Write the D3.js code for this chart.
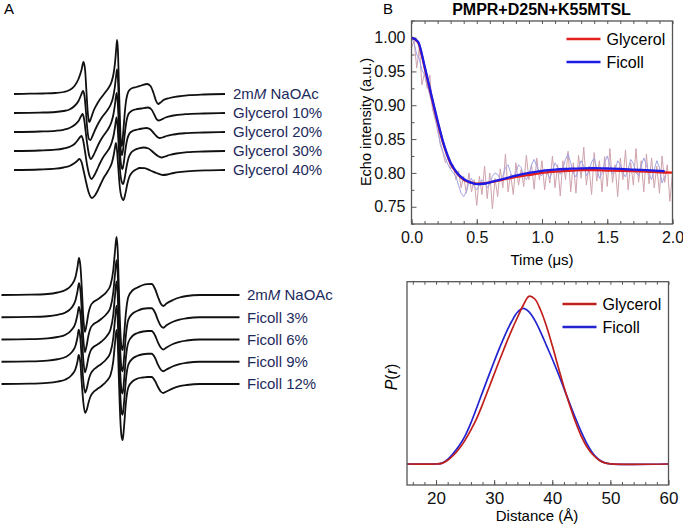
<!DOCTYPE html>
<html>
<head>
<meta charset="utf-8">
<script src="https://cdnjs.cloudflare.com/ajax/libs/d3/7.8.5/d3.min.js"></script>
<style>
  body { margin: 0; background: #fff; }
  svg { font-family: "Liberation Sans", Arial, sans-serif; }
</style>
</head>
<body>
<svg id="fig" width="683" height="525"></svg>
<script>

// ---------------- panel A : cw EPR spectra ----------------
var glyLabels = ["2mM NaOAc", "Glycerol 10%", "Glycerol 20%", "Glycerol 30%", "Glycerol 40%"];
var ficLabels = ["2mM NaOAc", "Ficoll 3%", "Ficoll 6%", "Ficoll 9%", "Ficoll 12%"];

// [field offset (G), derivative amplitude]
var glySpectra = [
  [[-52.75,0],[-45,0.3],[-38,0.5],[-32,1],[-28,2],[-25,4],[-22.5,8],[-20.5,15],[-19,24],[-18,32],[-17.2,24],[-16.6,5],[-16,-15],[-15.5,-25],[-15,-28],[-14.2,-24],[-13,-17],[-11.5,-11],[-10,-6],[-8.5,-2],[-7,2],[-5.5,6],[-4,12],[-3,20],[-2.2,32],[-1.6,46],[-1.2,54],[-0.8,44],[-0.3,10],[0.2,-25],[0.7,-48],[1.2,-52],[1.8,-40],[2.5,-22],[3.2,-8],[4,0],[5,4],[6.5,6],[8.5,7],[11,8.5],[13.75,10],[15.5,8],[17,1],[18.3,-7],[19.3,-10],[20.5,-8.5],[22,-6],[25,-4],[29,-2.5],[35,-1.2],[42,-0.5],[52.75,0]],
  [[-52.75,0],[-40,0.4],[-32,1],[-28,2],[-25,3.5],[-22.5,7],[-20.5,12],[-19.2,18],[-18.25,22],[-17.5,17],[-16.8,2],[-16.1,-16],[-15.3,-26],[-14.5,-27],[-13.5,-23],[-12,-16],[-10.5,-10],[-9,-5],[-7.5,-1],[-6,3],[-4.5,8],[-3.3,15],[-2.4,25],[-1.7,37],[-1.25,43.5],[-0.8,35],[-0.3,8],[0.2,-22],[0.7,-38],[1.3,-42],[2,-33],[2.8,-18],[3.6,-7],[4.5,-1],[6,2],[8,3.5],[11,4.5],[14.25,5.5],[16,3.5],[17.5,-2],[18.5,-6],[19.5,-7.5],[21,-6.5],[23,-4.5],[27,-2.5],[33,-1.2],[42,-0.5],[52.75,0]],
  [[-52.75,0],[-40,0.5],[-32,1.2],[-28,2.2],[-25,4],[-22.5,7],[-20.5,11],[-19.3,15.5],[-18.5,18],[-17.7,13],[-16.9,0],[-16,-14],[-15.1,-24],[-14.3,-27],[-13.2,-24],[-11.8,-18],[-10.2,-11],[-8.6,-5.5],[-7,-1],[-5.5,3.5],[-4.2,9],[-3.1,17],[-2.3,27],[-1.8,35],[-1.4,39],[-0.9,30],[-0.3,5],[0.3,-22],[0.9,-34],[1.5,-37],[2.2,-30],[3,-17],[3.9,-7],[5,-1.5],[6.5,1],[9,2.5],[11.5,3.5],[13.5,4],[15.5,2.5],[17.5,-2],[19,-5],[20,-6],[21.5,-5.5],[23.5,-4],[27,-2.5],[33,-1.2],[42,-0.5],[52.75,0]],
  [[-52.75,0],[-40,0.5],[-32,1.3],[-28,2.5],[-25,4.2],[-22.5,7],[-20.8,11],[-19.7,14],[-19,15],[-18.2,11],[-17.2,-1],[-16.2,-14],[-15.1,-24],[-14,-28],[-12.8,-25],[-11.3,-19],[-9.7,-12],[-8.1,-6],[-6.5,-1.5],[-5,3],[-3.8,9],[-2.8,17],[-2.1,26],[-1.5,33.5],[-1,26],[-0.4,4],[0.3,-20],[1,-30],[1.8,-33],[2.6,-27],[3.5,-16],[4.5,-7],[5.7,-2],[7.5,1],[10,2.8],[12,3.5],[14.5,2.5],[17,-1.5],[19.2,-5],[21,-6.5],[22.7,-5.5],[25,-4],[28.5,-2.5],[34,-1.2],[42,-0.5],[52.75,0]],
  [[-52.75,0],[-40,0.5],[-32,1.3],[-28,2.5],[-25,4],[-22.8,6.5],[-21.2,9],[-20,11],[-19,8],[-17.8,-2],[-16.6,-13],[-15.3,-23],[-13.8,-28],[-12.5,-26],[-11,-21],[-9.4,-14],[-7.8,-7.5],[-6.2,-2.5],[-4.8,2.5],[-3.7,8],[-2.8,16],[-2.2,23],[-1.8,27],[-1.3,21],[-0.6,2],[0.2,-18],[1,-27],[2,-30],[2.9,-24],[3.9,-14],[5,-6.5],[6.5,-2],[8.5,0.8],[10,2],[12.5,1.8],[15.5,-0.5],[18.5,-3],[21.7,-5],[24,-4.5],[27,-3],[31,-1.8],[37,-0.8],[45,-0.3],[52.75,0]]
];

var ficSpectra = [
  [[-59,0],[-45,0.3],[-36,1],[-31,2.5],[-27,5],[-24,10],[-22,18],[-21,28],[-20.25,37],[-19.5,28],[-18.8,5],[-18.1,-22],[-17.3,-37],[-16.5,-30],[-15.5,-18],[-14.5,-11],[-13,-7],[-11.4,-5],[-9,-1.5],[-6.4,3.3],[-4.5,10],[-3.1,25],[-2.2,45],[-1.5,58],[-0.9,45],[-0.3,5],[0.4,-35],[1.0,-52],[1.6,-55],[2.3,-40],[3.2,-18],[4.4,-2],[6.75,5],[9,7.5],[11.75,10],[14,10.8],[16.1,11],[17.8,6],[19.25,-2],[20.6,-8.5],[21.9,-11],[23.5,-8.5],[26.75,-5],[30,-2.5],[33.6,-1],[40,0],[60,0]],
  [[-59,0],[-45,0.3],[-36,1],[-31,2.4],[-27,4.8],[-24,9.5],[-22,17],[-21,26],[-20.25,34],[-19.5,26],[-18.8,4],[-18.1,-21],[-17.3,-35],[-16.5,-29],[-15.5,-18],[-14.5,-11],[-13,-7],[-11.4,-5],[-9,-1.5],[-6.4,3.5],[-4.5,10],[-3.1,25],[-2.2,44],[-1.5,57],[-0.9,44],[-0.3,5],[0.4,-34],[1.0,-51],[1.6,-54],[2.3,-40],[3.2,-18],[4.4,-2.5],[6.75,4],[9,6.5],[11.75,8.5],[14,9],[16.1,9],[17.8,4.5],[19.25,-3],[20.6,-8.5],[21.9,-10.5],[23.5,-8],[26.75,-4.5],[30,-2.3],[33.6,-1],[40,0],[60,0]],
  [[-59,0],[-45,0.3],[-36,1.1],[-31,2.5],[-27,4.8],[-24,9.5],[-22,16.5],[-21,25],[-20.3,32.5],[-19.5,25],[-18.8,3],[-18.1,-20],[-17.3,-33],[-16.5,-28],[-15.5,-18],[-14.5,-11.5],[-13,-7.5],[-11.4,-5.5],[-9,-2],[-6.4,3.3],[-4.5,10],[-3.1,25],[-2.2,45],[-1.5,58],[-0.9,45],[-0.3,5],[0.4,-34],[1.0,-51],[1.6,-54],[2.3,-40],[3.2,-18],[4.4,-3],[6.75,4],[9,6.5],[11.75,8],[14,8.5],[16.1,8.5],[17.8,4],[19.25,-3],[20.6,-8],[21.9,-10],[23.5,-8],[26.75,-4.5],[30,-2.3],[33.6,-1],[40,0],[60,0]],
  [[-59,0],[-45,0.3],[-36,1.1],[-31,2.5],[-27,4.7],[-24,9.3],[-22,16],[-21,24.5],[-20.4,32],[-19.6,24],[-18.9,3],[-18.1,-19],[-17.2,-31],[-16.4,-27],[-15.4,-18],[-14.4,-12],[-13,-8],[-11.4,-5.5],[-9,-2],[-6.4,3],[-4.5,9.5],[-3.1,24],[-2.2,43],[-1.5,56],[-0.9,43],[-0.3,5],[0.4,-33],[1.0,-50],[1.6,-53],[2.3,-40],[3.2,-18],[4.4,-3],[6.75,3.5],[9,6],[11.75,7.5],[14,8],[16.1,8],[17.8,3.8],[19.25,-3],[20.6,-7.8],[21.9,-9.5],[23.5,-7.8],[26.75,-4.5],[30,-2.3],[33.6,-1],[40,0],[60,0]],
  [[-59,0],[-45,0.3],[-36,1.1],[-31,2.4],[-27,4.5],[-24,8.8],[-22,15],[-21,22.5],[-20.4,29],[-19.6,22],[-18.9,2],[-18.1,-18],[-17.2,-29],[-16.4,-26],[-15.4,-18],[-14.4,-12],[-13,-8],[-11.4,-5.5],[-9,-2],[-6.4,3],[-4.5,9],[-3.1,23],[-2.2,42],[-1.5,54],[-0.9,42],[-0.3,4],[0.4,-35],[1.0,-52],[1.6,-56],[2.3,-42],[3.2,-19],[4.4,-3.5],[6.75,3],[9,5.5],[11.75,6.5],[14,7],[16.1,7],[17.8,3],[19.25,-3],[20.6,-7.5],[21.9,-9],[23.5,-7.5],[26.75,-4.3],[30,-2.2],[33.6,-1],[40,0],[60,0]]
];

// ---------------- panel B : DEER ----------------
var deerTitle = "PMPR+D25N+K55MTSL";
var seriesNames = ["Glycerol", "Ficoll"];
var timeTicks = [0, 0.5, 1.0, 1.5, 2.0];
var echoTicks = [0.75, 0.80, 0.85, 0.90, 0.95, 1.00];
var distTicks = [20, 30, 40, 50, 60];

var rawStep = 0.02; // us between raw points
var glyRaw = [0.985,0.995,0.955,0.985,0.930,0.948,0.925,0.945,0.895,0.880,0.870,0.842,0.830,0.815,0.823,0.806,0.812,0.790,0.803,0.778,
  0.795,0.770,0.800,0.772,0.790,0.752,0.795,0.768,0.810,0.762,0.800,0.747,0.792,0.765,0.806,0.778,0.828,0.772,0.798,0.768,
  0.815,0.782,0.805,0.780,0.826,0.790,0.812,0.776,0.822,0.790,0.818,0.775,0.806,0.785,0.825,0.778,0.812,0.766,0.818,0.790,
  0.832,0.772,0.815,0.770,0.826,0.792,0.838,0.782,0.810,0.768,0.830,0.788,0.818,0.772,0.824,0.780,0.836,0.786,0.812,0.765,
  0.822,0.790,0.834,0.775,0.815,0.782,0.836,0.786,0.818,0.772,0.828,0.784,0.822,0.778,0.810,0.770,0.825,0.786,0.812,0.758,0.800];
var ficRaw = [1.000,0.992,0.975,0.968,0.952,0.945,0.930,0.915,0.900,0.882,0.862,0.845,0.832,0.822,0.812,0.805,0.800,0.795,0.782,0.770,
  0.765,0.772,0.786,0.792,0.780,0.775,0.782,0.790,0.786,0.778,0.784,0.795,0.800,0.798,0.790,0.795,0.808,0.812,0.800,0.792,
  0.800,0.812,0.808,0.795,0.790,0.798,0.812,0.820,0.810,0.798,0.796,0.806,0.800,0.792,0.802,0.815,0.808,0.798,0.806,0.820,
  0.828,0.815,0.800,0.794,0.808,0.818,0.810,0.796,0.802,0.816,0.822,0.806,0.792,0.800,0.815,0.825,0.812,0.798,0.804,0.818,
  0.812,0.800,0.794,0.806,0.820,0.814,0.800,0.796,0.810,0.822,0.812,0.798,0.790,0.805,0.818,0.808,0.785,0.795];

var glyFitT = [0,0.05,0.1,0.15,0.2,0.25,0.3,0.35,0.4,0.45,0.5,0.55,0.6,0.7,0.8,0.9,1.0,1.1,1.2,1.3,1.4,1.5,1.6,1.7,1.8,1.9,2.0];
var glyFit  = [1.000,0.993,0.956,0.915,0.875,0.839,0.814,0.799,0.790,0.786,0.784,0.7845,0.786,0.790,0.794,0.797,0.800,0.802,0.803,0.804,0.804,0.8035,0.803,0.8025,0.802,0.801,0.8005];
var ficFitT = [0,0.05,0.1,0.15,0.2,0.25,0.3,0.35,0.4,0.45,0.5,0.55,0.6,0.7,0.8,0.9,1.0,1.1,1.2,1.3,1.4,1.5,1.6,1.7,1.8,1.9,1.94];
var ficFit  = [1.000,0.994,0.958,0.917,0.877,0.841,0.815,0.800,0.791,0.786,0.7835,0.784,0.786,0.791,0.796,0.800,0.803,0.805,0.806,0.8068,0.807,0.8065,0.806,0.805,0.804,0.803,0.8025];

// distance distributions: r (A) and P(r)
var distR = [15,20,21,22,23,24,25,26,27,28,29,30,31,32,33,34,35,36,37,38,39,40,41,42,43,44,45,46,47,48,49,50,60];
var glyPr = [0,0,0.004,0.022,0.052,0.092,0.142,0.203,0.272,0.355,0.445,0.535,0.625,0.712,0.795,0.872,0.945,0.998,0.982,0.915,0.82,0.705,0.58,0.46,0.35,0.25,0.165,0.10,0.055,0.024,0.007,0.001,0];
var ficPr = [0,0,0.005,0.028,0.065,0.11,0.168,0.245,0.335,0.428,0.52,0.61,0.697,0.778,0.848,0.903,0.926,0.905,0.855,0.785,0.705,0.625,0.54,0.45,0.36,0.272,0.19,0.118,0.063,0.027,0.008,0.001,0];

var svg = d3.select("#fig");
svg.append("rect").attr("width", 683).attr("height", 525).attr("fill", "#fff");

// panel letters
svg.append("text").attr("x", 4).attr("y", 14).style("font-size", "15px").text("A");
svg.append("text").attr("x", 383).attr("y", 14).style("font-size", "15px").text("B");

//---- EPR stacks
var eprX = d3.scaleLinear().domain([-60, 60]).range([-0.5, 239.5]);
var eprY = d3.scaleLinear().domain([-100, 100]).range([100, -100]);
var eprLine = d3.line()
  .x(function(d) { return eprX(d[0]); })
  .y(function(d) { return eprY(d[1]); })
  .curve(d3.curveMonotoneX);

function addLabel(g, txt, x, y) {
  var t = g.append("text").attr("x", x).attr("y", y).attr("dy", "0.35em")
    .attr("fill", "#1d2a5c").style("font-size", "15px");
  if (txt.indexOf("mM") >= 0) {
    var p = txt.split("mM");
    t.append("tspan").text(p[0] + "m");
    t.append("tspan").style("font-style", "italic").text("M");
    t.append("tspan").text(p[1]);
  } else {
    t.text(txt);
  }
}

function drawStack(spectra, labels, top, step, labelX) {
  spectra.forEach(function(s, i) {
    var base = top + i * step;
    svg.append("path")
      .attr("transform", "translate(0," + base + ")")
      .attr("d", eprLine(s))
      .attr("fill", "none")
      .attr("stroke", "#111")
      .attr("stroke-width", 1.8)
      .attr("stroke-linejoin", "round");
    addLabel(svg, labels[i], labelX, base);
  });
}
drawStack(glySpectra, glyLabels, 94, 19, 233);
drawStack(ficSpectra, ficLabels, 295, 22.25, 247);

//---- DEER time trace
var tx = d3.scaleLinear().domain([0, 2]).range([411.5, 672.5]);
var ty = d3.scaleLinear().domain([0.7245, 1.0245]).range([224, 21]);
var axisCol = "#555";

function styleAxis(g, fs) {
  g.select(".domain").remove();
  g.selectAll(".tick line").attr("stroke", axisCol).attr("stroke-width", 1);
  g.selectAll(".tick text").style("font-size", fs).attr("fill", "#111")
    .style("font-family", "'Liberation Sans', Arial, sans-serif");
}

var gx = svg.append("g").attr("transform", "translate(0,224)")
  .call(d3.axisBottom(tx).tickValues(timeTicks).tickFormat(d3.format(".1f")).tickSizeInner(-5).tickSizeOuter(0).tickPadding(8));
styleAxis(gx, "16px");
var gxm = svg.append("g").attr("transform", "translate(0,224)")
  .call(d3.axisBottom(tx).tickValues(d3.range(0, 2.001, 0.1)).tickFormat("").tickSizeInner(-3).tickSizeOuter(0));
styleAxis(gxm, "0px");
var gxt = svg.append("g").attr("transform", "translate(0,21)")
  .call(d3.axisTop(tx).tickValues(d3.range(0, 2.001, 0.1)).tickFormat("").tickSizeInner(-3).tickSizeOuter(0));
styleAxis(gxt, "0px");

var gy = svg.append("g").attr("transform", "translate(411.5,0)")
  .call(d3.axisLeft(ty).tickValues(echoTicks).tickFormat(d3.format(".2f")).tickSizeInner(-5).tickSizeOuter(0).tickPadding(6));
styleAxis(gy, "16px");
var gym = svg.append("g").attr("transform", "translate(411.5,0)")
  .call(d3.axisLeft(ty).tickValues([0.725, 0.775, 0.825, 0.875, 0.925, 0.975, 1.025]).tickFormat("").tickSizeInner(-3).tickSizeOuter(0));
styleAxis(gym, "0px");

var rawLine = d3.line()
  .x(function(d, i) { return tx(i * rawStep); })
  .y(function(d) { return ty(d); });
svg.append("path").attr("d", rawLine(glyRaw)).attr("fill", "none").attr("stroke", "#cfa3ad").attr("stroke-width", 1);
svg.append("path").attr("d", rawLine(ficRaw)).attr("fill", "none").attr("stroke", "#a3a3e6").attr("stroke-width", 1);

var fitLine = d3.line().curve(d3.curveMonotoneX);
svg.append("path")
  .attr("d", fitLine(glyFitT.map(function(t, i) { return [tx(t), ty(glyFit[i])]; })))
  .attr("fill", "none").attr("stroke", "#e3201b").attr("stroke-width", 2.3);
svg.append("path")
  .attr("d", fitLine(ficFitT.map(function(t, i) { return [tx(t), ty(ficFit[i])]; })))
  .attr("fill", "none").attr("stroke", "#1c1ce6").attr("stroke-width", 2.3);

svg.append("rect").attr("x", 411.5).attr("y", 21).attr("width", 261).attr("height", 203)
  .attr("fill", "none").attr("stroke", axisCol).attr("stroke-width", 1.3);

svg.append("text").attr("x", 541.5).attr("y", 15).attr("text-anchor", "middle")
  .style("font-size", "16px").style("font-weight", "bold").text(deerTitle);
svg.append("text").attr("x", 542).attr("y", 265).attr("text-anchor", "middle")
  .style("font-size", "15px").text("Time (\u03bcs)");
svg.append("text").attr("transform", "translate(371,122) rotate(-90)").attr("text-anchor", "middle")
  .style("font-size", "14.5px").text("Echo intensity (a.u.)");

function legend(y0, colors, x0) {
  seriesNames.forEach(function(n, i) {
    var y = y0 + i * 23;
    svg.append("line").attr("x1", x0).attr("x2", x0 + 34).attr("y1", y).attr("y2", y)
      .attr("stroke", colors[i]).attr("stroke-width", 2.4);
    svg.append("text").attr("x", x0 + 40).attr("y", y).attr("dy", "0.35em")
      .style("font-size", "16px").text(n);
  });
}
legend(39, ["#e3201b", "#1c1ce6"], 566.5);

//---- distance distribution
var rx = d3.scaleLinear().domain([15, 60]).range([407, 668.5]);
var py = d3.scaleLinear().domain([-0.125, 1.085]).range([485, 281.7]);

var gr = svg.append("g").attr("transform", "translate(0,485)")
  .call(d3.axisBottom(rx).tickValues(distTicks).tickFormat(d3.format("d")).tickSizeInner(-5).tickSizeOuter(0).tickPadding(7));
styleAxis(gr, "17px");
var grm = svg.append("g").attr("transform", "translate(0,485)")
  .call(d3.axisBottom(rx).tickValues(d3.range(16, 60, 2)).tickFormat("").tickSizeInner(-3).tickSizeOuter(0));
styleAxis(grm, "0px");
var grt = svg.append("g").attr("transform", "translate(0,281.7)")
  .call(d3.axisTop(rx).tickValues(d3.range(16, 60.1, 2)).tickFormat("").tickSizeInner(-3).tickSizeOuter(0));
styleAxis(grt, "0px");

var prLine = d3.line()
  .x(function(d) { return rx(d[0]); })
  .y(function(d) { return py(d[1]); })
  .curve(d3.curveCatmullRom.alpha(0.5));
svg.append("path").attr("d", prLine(distR.map(function(r, i) { return [r, ficPr[i]]; })))
  .attr("fill", "none").attr("stroke", "#2323d0").attr("stroke-width", 1.7);
svg.append("path").attr("d", prLine(distR.map(function(r, i) { return [r, glyPr[i]]; })))
  .attr("fill", "none").attr("stroke", "#c0201c").attr("stroke-width", 1.7);

svg.append("rect").attr("x", 407).attr("y", 281.7).attr("width", 261.5).attr("height", 203.3)
  .attr("fill", "none").attr("stroke", axisCol).attr("stroke-width", 1.3);

svg.append("text").attr("x", 537).attr("y", 521).attr("text-anchor", "middle")
  .style("font-size", "15px").text("Distance (\u00c5)");
var pl = svg.append("text").attr("transform", "translate(397,377) rotate(-90)").attr("text-anchor", "middle")
  .style("font-size", "16px");
pl.append("tspan").style("font-style", "italic").text("P");
pl.append("tspan").text("(");
pl.append("tspan").style("font-style", "italic").text("r");
pl.append("tspan").text(")");

legend(304, ["#c0201c", "#2323d0"], 562.5);

</script>
</body>
</html>
